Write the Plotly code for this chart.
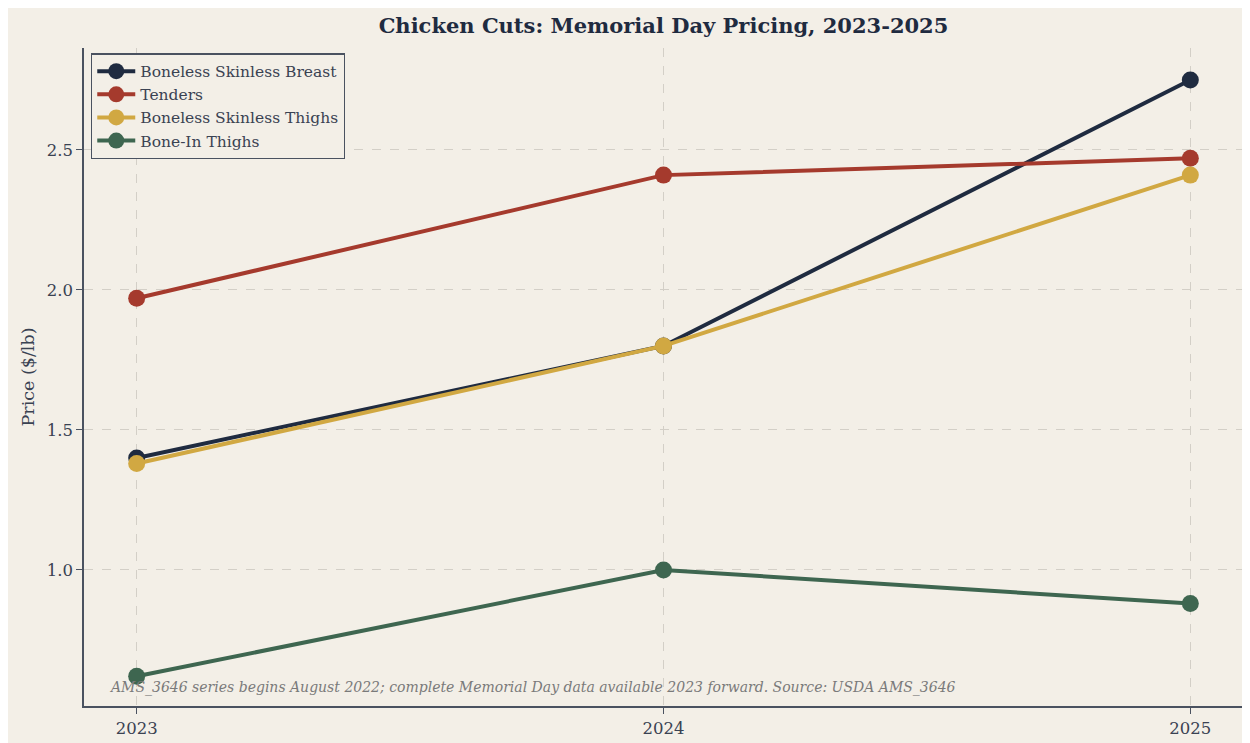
import plotly.graph_objects as go

years = [2023, 2024, 2025]
breast = [1.40, 1.80, 2.75]
tenders = [1.97, 2.41, 2.47]
bs_thighs = [1.38, 1.80, 2.41]
bone_in = [0.62, 1.00, 0.88]

series = [
    ("Boneless Skinless Breast", breast, "#1f2b40"),
    ("Tenders", tenders, "#a53a2d"),
    ("Boneless Skinless Thighs", bs_thighs, "#d1a842"),
    ("Bone-In Thighs", bone_in, "#3e6650"),
]

font_family = "DejaVu Serif"
bg = "#f3efe7"
axis_col = "#4a5260"

fig = go.Figure()
for name, vals, color in series:
    fig.add_trace(go.Scatter(
        x=years, y=vals, name=name, mode="lines+markers",
        line=dict(color=color, width=4),
        marker=dict(color=color, size=17),
    ))

fig.add_annotation(
    text="AMS_3646 series begins August 2022; complete Memorial Day data available 2023 forward. Source: USDA AMS_3646",
    xref="paper", yref="paper", x=0.02, y=0.012, xanchor="left", yanchor="bottom",
    showarrow=False, font=dict(family=font_family, size=14, color="#7a7a7a", style="italic"),
)

# page body adds an 8px margin, so the figure is slightly smaller than the window
fig.update_layout(
    width=1242, height=735,
    paper_bgcolor=bg, plot_bgcolor=bg,
    margin=dict(l=76, r=7, t=40, b=37),
    font=dict(family=font_family, color="#3a4252", size=16.5),
    title=dict(text="<b>Chicken Cuts: Memorial Day Pricing, 2023-2025</b>",
               xref="paper", x=0.5, xanchor="center", y=0.9755, yanchor="middle",
               font=dict(size=21, color="#1f2b40")),
    showlegend=True,
    legend=dict(x=0.006, y=0.992, xanchor="left", yanchor="top",
                bgcolor=bg, bordercolor=axis_col, borderwidth=1.3,
                font=dict(size=15.5, color="#3a4252"), tracegroupgap=0,
                itemwidth=38),
    xaxis=dict(range=[2022.9, 2025.1], tickvals=years, ticktext=[str(y) for y in years],
               showgrid=True, gridcolor="#d3cfc7", griddash="dash", gridwidth=1,
               showline=True, linecolor=axis_col, linewidth=1.5, automargin=False,
               ticks="outside", ticklen=6, tickcolor=axis_col, zeroline=False),
    yaxis=dict(range=[0.514, 2.864], tickvals=[1.0, 1.5, 2.0, 2.5],
               ticktext=["1.0", "1.5", "2.0", "2.5"],
               title=dict(text="Price ($/lb)", standoff=8, font=dict(size=17.5)),
               showgrid=True, gridcolor="#d3cfc7", griddash="dash", gridwidth=1,
               showline=True, linecolor=axis_col, linewidth=1.5, automargin=False,
               ticks="outside", ticklen=6, tickcolor=axis_col, zeroline=False),
)

fig.write_html("out.html")
